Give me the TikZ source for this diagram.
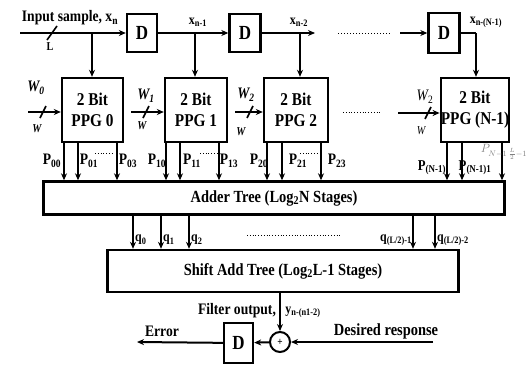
\documentclass[tikz,border=0pt]{standalone}
\usepackage{fontspec}
\setmainfont[FakeStretch=0.85]{Liberation Serif}
\usetikzlibrary{arrows.meta}
\newcommand\fs[1]{\fontsize{#1}{#1}\selectfont}
\begin{document}
\begin{tikzpicture}[x=1pt,y=-1pt,
  font=\bfseries,
  dbox/.style={draw,line width=2.4pt,inner sep=0pt,font=\bfseries\fs{20}},
  ppg/.style={draw,line width=2.4pt,inner sep=0pt,align=center,font=\bfseries\fontsize{18}{21}\selectfont,minimum height=64},
  big/.style={draw,line width=2.4pt,inner sep=0pt,font=\bfseries\fs{17}},
  ar/.style={line width=2pt,-{Stealth[length=7pt,width=6pt]}},
  ln/.style={line width=2pt},
  lbl/.style={inner sep=0pt,font=\bfseries\fs{16}},
  slbl/.style={inner sep=0pt,font=\bfseries\fs{14}},
  wl/.style={inner sep=0pt,font=\bfseries\itshape\fs{16}},
  wsm/.style={inner sep=0pt,font=\bfseries\itshape\fs{12}},
  dots/.style={line width=1pt,dash pattern=on 0.8pt off 2.2pt},
  sdots/.style={line width=0.8pt,dash pattern=on 0.8pt off 2pt},
  slash/.style={line width=1.6pt}
]
\useasboundingbox (0,0) rectangle (527,364);

% delay elements
\node[dbox,minimum width=30,minimum height=38] (D1) at (142,33) {D};
\node[dbox,minimum width=31,minimum height=38] (D2) at (245,33) {D};
\node[dbox,minimum width=31,minimum height=40] (D3) at (444,33) {D};

% PPG blocks
\node[ppg,minimum width=61] (PPG0) at (92.5,110) {2 Bit\\PPG 0};
\node[ppg,minimum width=62] (PPG1) at (196,110) {2 Bit\\PPG 1};
\node[ppg,minimum width=64] (PPG2) at (296,110) {2 Bit\\PPG 2};
\node[ppg,minimum width=64] (PPGN) at (475,110) {2 Bit\\PPG (N-1)};

% trees
\node[big,minimum width=461,minimum height=33] (Adder) at (274,198) {Adder Tree (Log\textsubscript{2}N Stages)};
\node[big,minimum width=351,minimum height=42] (Shift) at (283,271) {Shift Add Tree (Log\textsubscript{2}L-1 Stages)};

% output part
\node[circle,draw,line width=2pt,minimum size=20,inner sep=0pt] (sum) at (280,342) {};
\node[inner sep=0pt,font=\bfseries\fs{11}] (plus) at (sum.center) {+};
\node[dbox,minimum width=29,minimum height=40] (D4) at (238.5,343) {D};

% input delay line
\coordinate (in) at (20,33);
\coordinate (t0) at (92,33);
\coordinate (t1) at (195,33);
\coordinate (t2) at (300,33);
\coordinate (e2) at (315,33);
\coordinate (s3) at (400,33);
\coordinate (t3) at (476,33);
\draw[ar] (in) -- (D1);
\draw[ar] (t0) -- (t0 |- PPG0.north);
\draw[ar] (D1) -- (D2);
\draw[ar] (t1) -- (t1 |- PPG1.north);
\draw[ar] (D2) -- (e2);
\draw[ar] (t2) -- (t2 |- PPG2.north);
\draw[dots] (338,33) -- (390,33);
\draw[ar] (s3) -- (D3);
\draw[ln] (D3.east) -- (t3);
\draw[ar] (t3) -- (t3 |- PPGN.north);
\draw[slash] (47,40) -- (57,26);

\node[lbl,font=\bfseries\fs{16}] (inlbl) at (70,18) {Input sample, x\textsubscript{n}};
\node[wsm,font=\bfseries\fs{12}] (Llbl) at (50,47) {L};
\node[slbl] (x1) at (198,22) {x\textsubscript{n-1}};
\node[slbl] (x2) at (299,22) {x\textsubscript{n-2}};
\node[slbl] (x3) at (486,22) {x\textsubscript{n-(N-1)}};

% W inputs
\coordinate (w0) at (28,112);
\coordinate (w1) at (131,112);
\coordinate (w2) at (235,112);
\coordinate (w3) at (398,113);
\draw[ar] (w0) -- (w0 -| PPG0.west);
\draw[ar] (w1) -- (w1 -| PPG1.west);
\draw[ar] (w2) -- (w2 -| PPG2.west);
\draw[ar] (w3) -- (w3 -| PPGN.west);
\draw[slash] (40,118) -- (46,106);
\draw[slash] (143,118) -- (149,106);
\draw[slash] (247,118) -- (253,106);
\draw[slash] (425,119) -- (431,107);
\node[wl] (W0) at (36,88) {W\textsubscript{0}};
\node[wl] (W1) at (146,96) {W\textsubscript{1}};
\node[wl] (W2) at (246,95) {W\textsubscript{2}};
\node[inner sep=0pt,font=\itshape\fs{16}] (W3) at (425,97) {W\textsubscript{\upshape 2}};
\node[wsm] (w0s) at (37,129) {W};
\node[wsm] (w1s) at (142,126) {W};
\node[wsm] (w2s) at (241,132) {W};
\node[inner sep=0pt,font=\itshape\fs{12}] (w3s) at (421,131) {W};
\draw[sdots] (343,112) -- (382,112);

% partial products
\foreach \x in {64,78,117} \draw[ar] (\x,0 |- PPG0.south) -- (\x,0 |- Adder.north);
\foreach \x in {166,180,219} \draw[ar] (\x,0 |- PPG1.south) -- (\x,0 |- Adder.north);
\foreach \x in {267,282,321} \draw[ar] (\x,0 |- PPG2.south) -- (\x,0 |- Adder.north);
\foreach \x in {447,462,502} \draw[ar] (\x,0 |- PPGN.south) -- (\x,0 |- Adder.north);

\node[lbl] (p00) at (52,161) {P\textsubscript{00}};
\node[lbl] (p01) at (89,161) {P\textsubscript{01}};
\node[lbl] (p03) at (128,161) {P\textsubscript{03}};
\node[lbl] (p10) at (157,161) {P\textsubscript{10}};
\node[lbl] (p11) at (192,161) {P\textsubscript{11}};
\node[lbl] (p13) at (229,161) {P\textsubscript{13}};
\node[lbl] (p20) at (259,161) {P\textsubscript{20}};
\node[lbl] (p21) at (298,161) {P\textsubscript{21}};
\node[lbl] (p23) at (337,161) {P\textsubscript{23}};
\node[lbl,font=\bfseries\fs{15}] (pn0) at (432,168) {P\textsubscript{(N-1)}};
\node[lbl,font=\bfseries\fs{15}] (pn1) at (475,168) {P\textsubscript{(N-1)1}};
\node[inner sep=0pt,text=gray,font=\fs{12}] (pnx) at (504,152) {$P_{N-1\,\frac{L}{2}-1}$};
\draw[sdots] (95,153) -- (112,153);
\draw[sdots] (200,153) -- (217,153);
\draw[sdots] (300,153) -- (317,153);

% q outputs
\foreach \x in {133,161,189,413,435} \draw[ar] (\x,0 |- Adder.south) -- (\x,0 |- Shift.north);
\node[slbl,anchor=west] (q0) at (135,240) {q\textsubscript{0}};
\node[slbl,anchor=west] (q1) at (163,240) {q\textsubscript{1}};
\node[slbl,anchor=west] (q2) at (191,240) {q\textsubscript{2}};
\node[slbl,anchor=east] (qa) at (412,240) {q\textsubscript{(L/2)-1}};
\node[slbl,anchor=west] (qb) at (437,240) {q\textsubscript{(L/2)-2}};
\draw[sdots] (247,235) -- (340,235);

% output
\coordinate (err) at (137,342);
\coordinate (des) at (433,342);
\draw[ar] (280,0 |- Shift.south) -- (sum.north);
\draw[ar] (sum) -- (D4);
\draw[ar] (D4) -- (err);
\draw[ar] (des) -- (sum);
\node[lbl,font=\bfseries\fs{16}] (fo) at (237,311) {Filter output,};
\node[slbl] (yl) at (303,312) {y\textsubscript{n-(n1-2)}};
\node[lbl,font=\bfseries\fs{16}] (errl) at (162,331) {Error};
\node[lbl,font=\bfseries\fs{17}] (desl) at (386,331) {Desired response};
\end{tikzpicture}
\end{document}
